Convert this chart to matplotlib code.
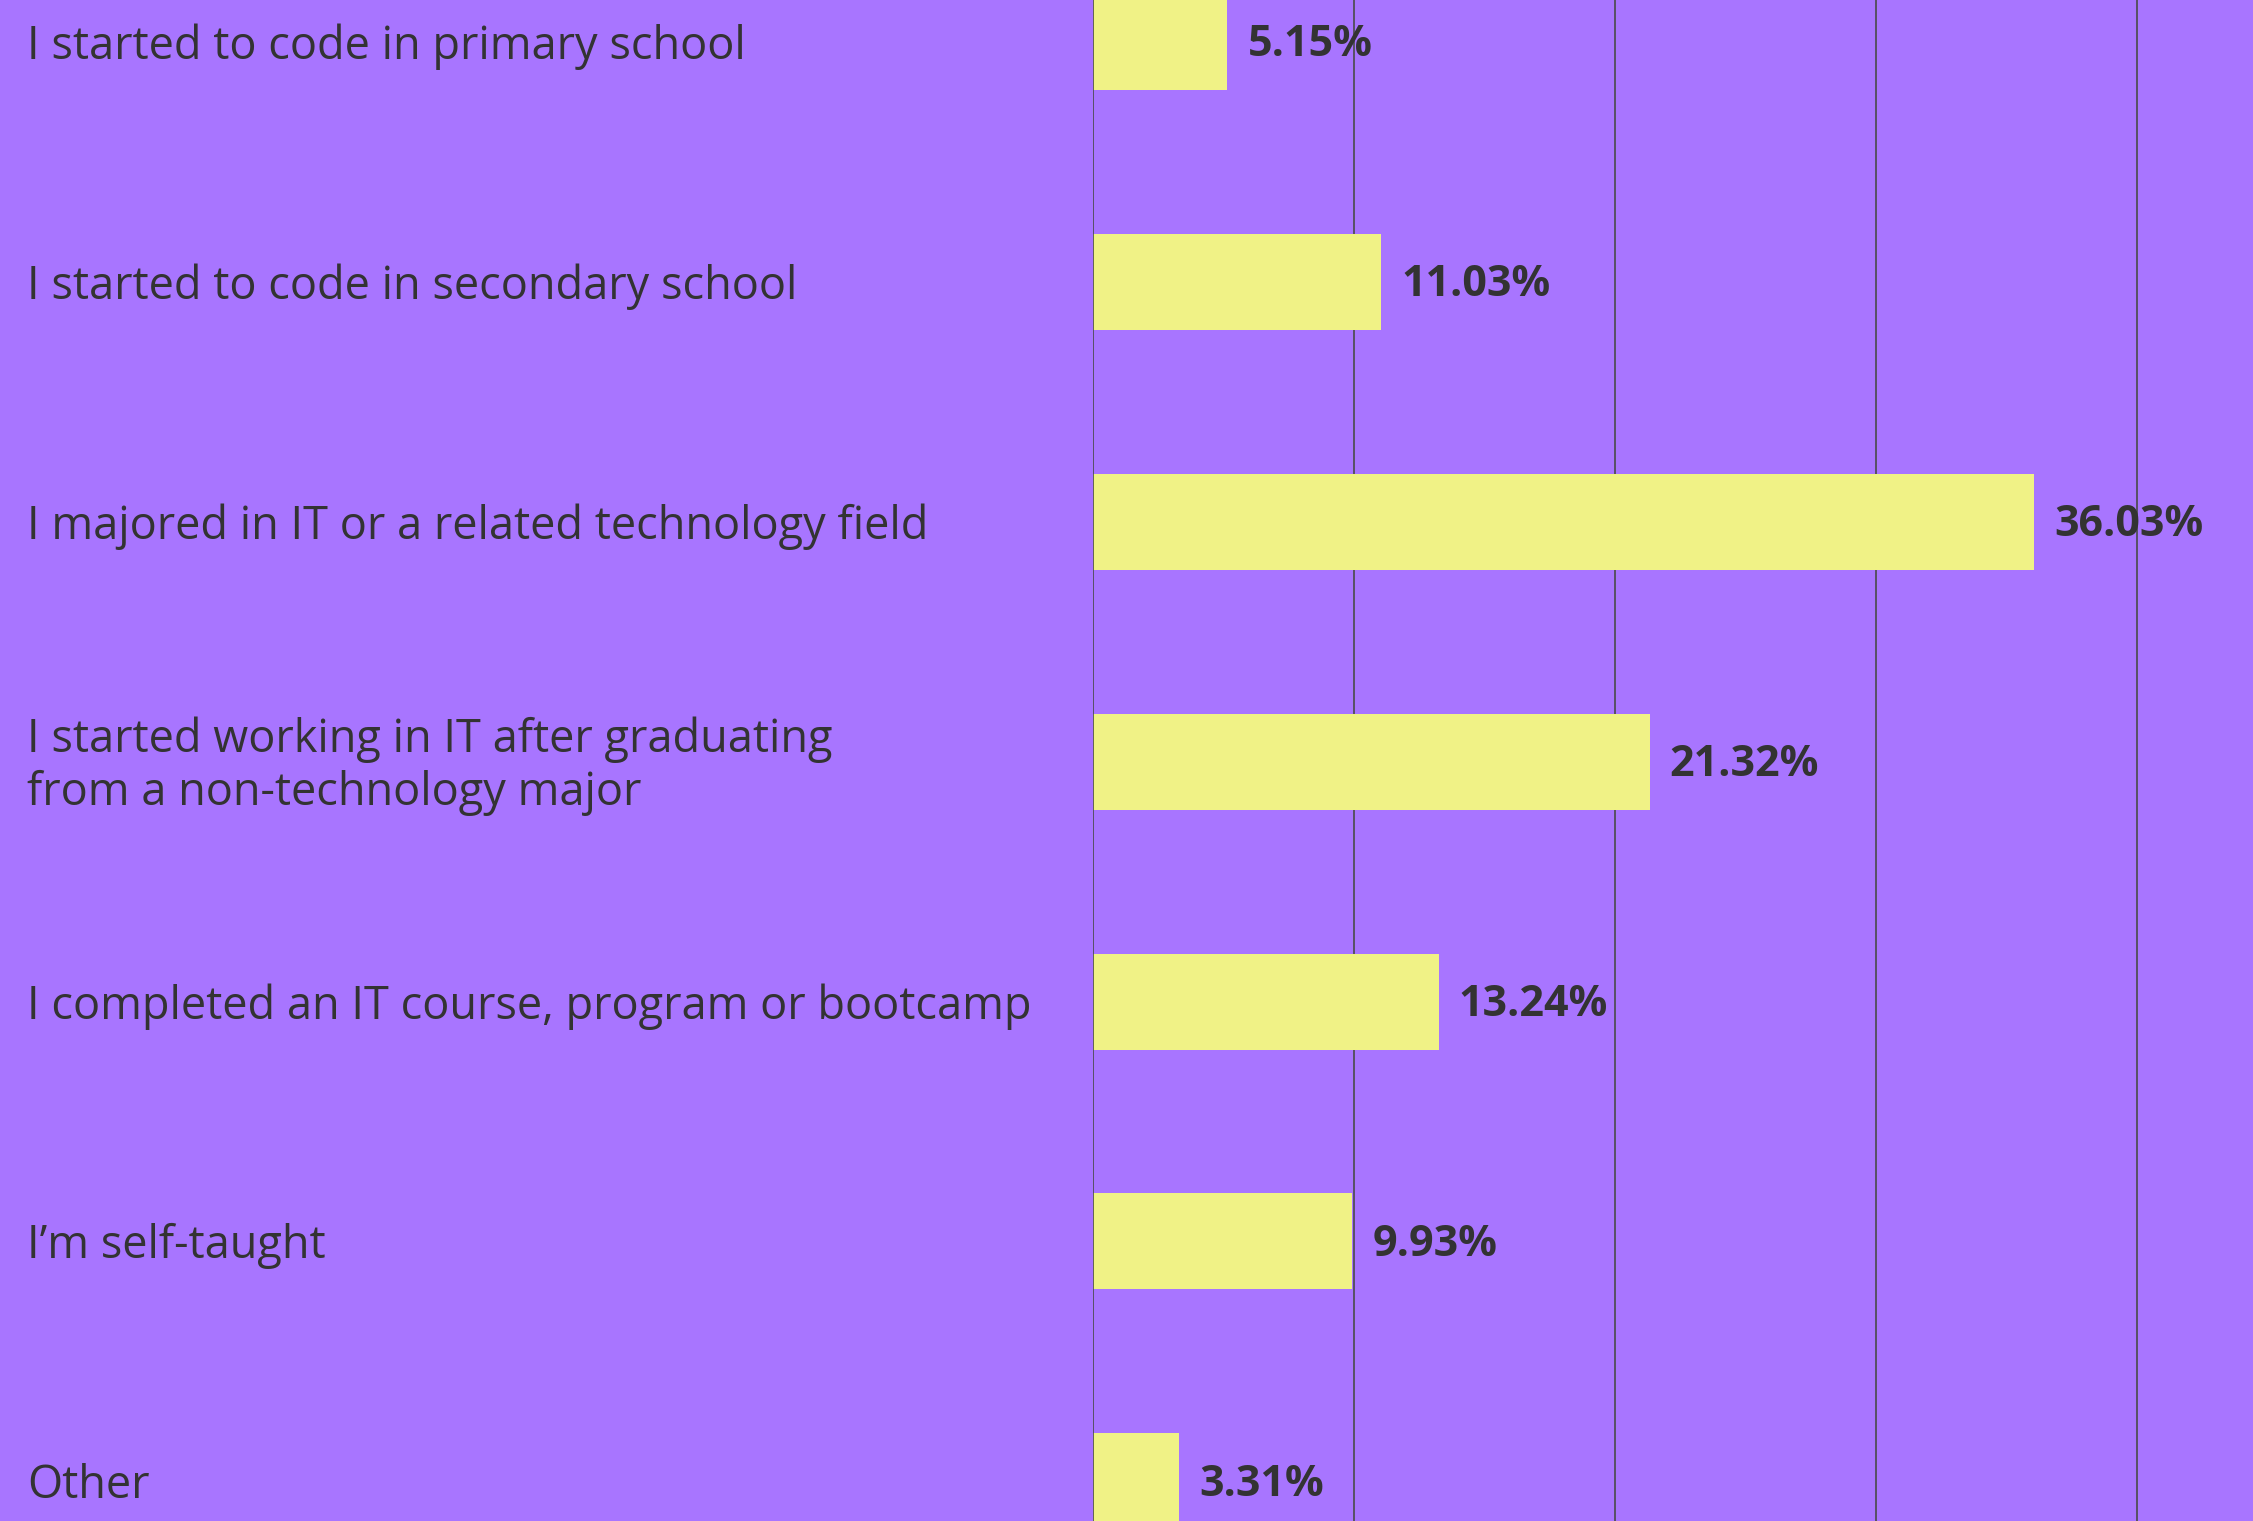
import matplotlib
matplotlib.use("Agg")
import matplotlib.pyplot as plt
import matplotlib.transforms as mtransforms

categories = [
    "I started to code in primary school",
    "I started to code in secondary school",
    "I majored in IT or a related technology field",
    "I started working in IT after graduating\nfrom a non-technology major",
    "I completed an IT course, program or bootcamp",
    "I\u2019m self-taught",
    "Other",
]
values = [5.15, 11.03, 36.03, 21.32, 13.24, 9.93, 3.31]
value_labels = ["5.15%", "11.03%", "36.03%", "21.32%", "13.24%", "9.93%", "3.31%"]
grid_ticks = [10, 20, 30, 40]

BG = "#A875FF"
BAR = "#F0F286"
TXT = "#333333"

plt.rcParams['font.family'] = ['Open Sans', 'DejaVu Sans']

fig = plt.figure(figsize=(22.53, 15.21), dpi=100)
fig.patch.set_facecolor(BG)
ax = fig.add_axes([1093 / 2253, 0, 1 - 1093 / 2253, 1])
ax.set_facecolor(BG)

ypos = list(range(len(categories)))
ax.barh(ypos, values, height=0.4, color=BAR, zorder=3)

ax.set_xlim(0, 44.43)
ax.set_ylim(6.165, -0.174)

for g in grid_ticks:
    ax.axvline(g, color="#4a4a4a", lw=1.2, zorder=1)
ax.axvline(0, color="#4a4a4a", lw=1.2, zorder=4)

for s in ax.spines.values():
    s.set_visible(False)
ax.set_xticks([])
ax.set_yticks([])

trans = mtransforms.blended_transform_factory(fig.transFigure, ax.transData)
for y, c in zip(ypos, categories):
    ax.text(27 / 2253, y + 0.02, c, transform=trans, ha="left", va="center",
            fontsize=32.5, color=TXT, linespacing=1.2, clip_on=False)

for y, v, lab in zip(ypos, values, value_labels):
    ax.annotate(lab, xy=(v, y), xytext=(14.5, -2), textcoords="offset points",
                ha="left", va="center", fontsize=31, fontweight="bold",
                color=TXT, zorder=5, annotation_clip=False)

fig.savefig("out.png", dpi=100, facecolor=BG)
